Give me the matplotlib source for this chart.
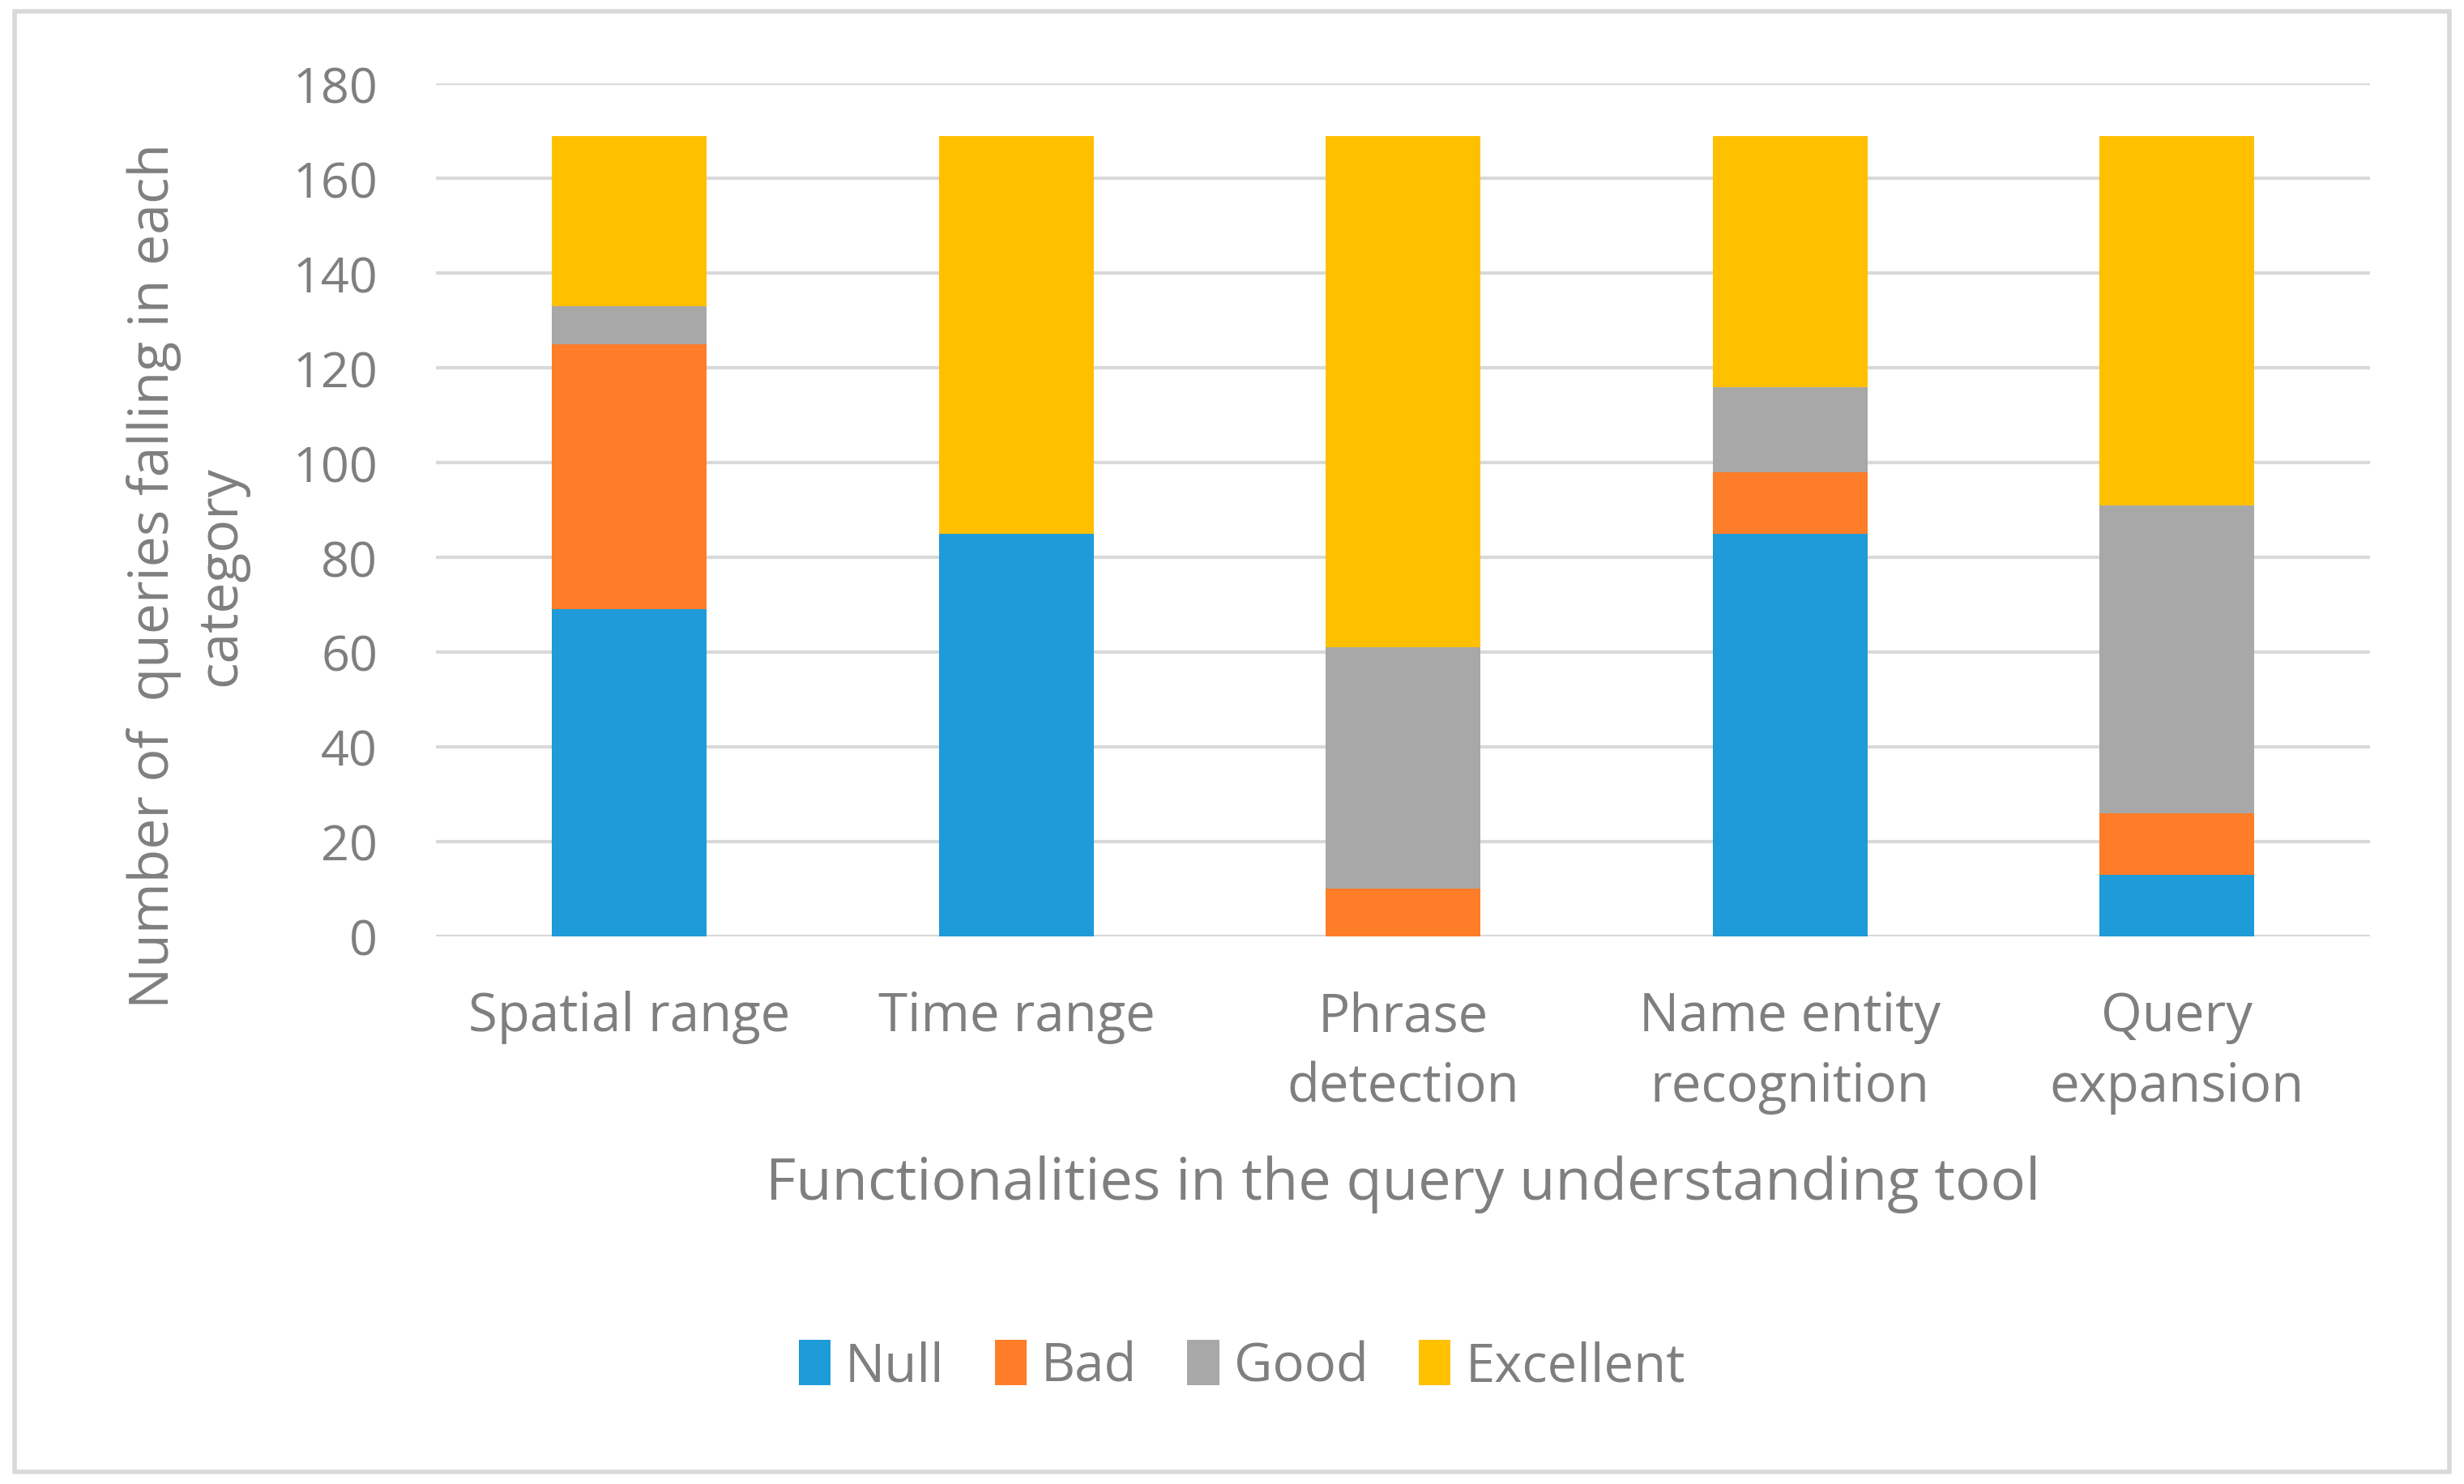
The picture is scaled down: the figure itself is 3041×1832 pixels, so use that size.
import matplotlib.pyplot as plt
from matplotlib.patches import Rectangle
import numpy as np

categories = ["Spatial range", "Time range", "Phrase\ndetection",
              "Name entity\nrecognition", "Query\nexpansion"]
null_vals = [69, 85, 0, 85, 13]
bad_vals = [56, 0, 10, 13, 13]
good_vals = [8, 0, 51, 18, 65]
excellent_vals = [36, 84, 108, 53, 78]
series = ["Null", "Bad", "Good", "Excellent"]
colors = ["#1E9BD8", "#FE7D28", "#A8A8A8", "#FFC000"]

plt.rcParams['font.family'] = ['Open Sans', 'DejaVu Sans']
gray = "#7F7F7F"

fig = plt.figure(figsize=(15.205, 9.165), dpi=200)
ax = fig.add_axes([0.177, 0.369, 0.785, 0.574])

x = np.arange(len(categories))
bottom = np.zeros(len(categories))
for name, vals, c in zip(series, [null_vals, bad_vals, good_vals, excellent_vals], colors):
    ax.bar(x, vals, bottom=bottom, width=0.4, color=c, label=name, zorder=3)
    bottom += np.array(vals)

ax.set_xlim(-0.5, 4.5)
ax.set_ylim(0, 180)
ax.set_yticks(range(0, 181, 20))
ax.set_xticks(x)
ax.set_xticklabels(categories, fontsize=23.5, color=gray, linespacing=1.42)
ax.tick_params(axis='y', labelsize=22, labelcolor=gray, length=0, pad=26)
ax.tick_params(axis='x', length=0, pad=24)
ax.grid(axis='y', color="#D9D9D9", linewidth=1.5, zorder=0)
ax.set_axisbelow(True)
for s in ax.spines.values():
    s.set_visible(False)

ax.set_xlabel("Functionalities in the query understanding tool", fontsize=26,
              color=gray, labelpad=18)
ax.set_ylabel("Number of  queries falling in each\ncategory", fontsize=24.5,
              color=gray, linespacing=1.3)
ax.yaxis.set_label_coords(-0.097, 0.424)

fig.legend(loc='center', bbox_to_anchor=(0.504, 0.079), ncol=4, frameon=False,
           fontsize=23.5, labelcolor=gray, handlelength=0.6, handleheight=0.95,
           handletextpad=0.28, columnspacing=0.95)

fig.patches.append(Rectangle((0.006, 0.008), 0.988, 0.984, transform=fig.transFigure,
                             fill=False, edgecolor="#D9D9D9", linewidth=2))

fig.savefig("out.png", dpi=200)
